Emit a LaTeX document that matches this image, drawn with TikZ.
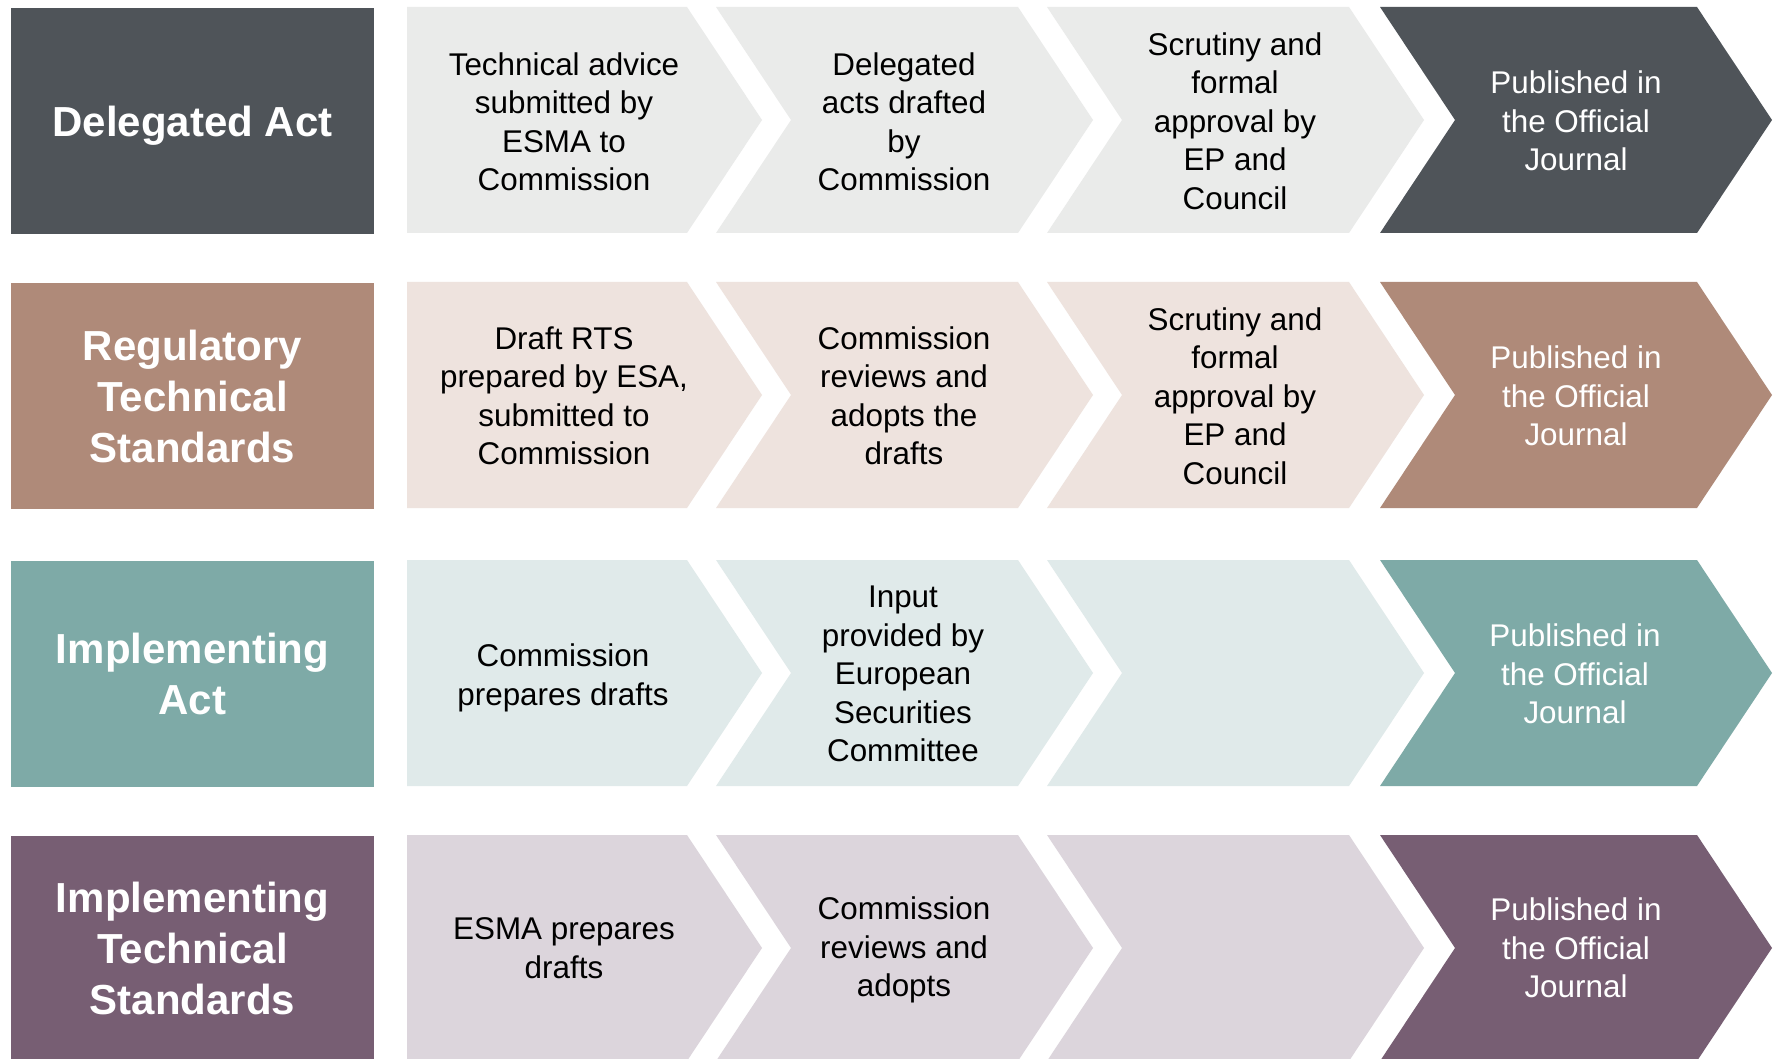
\documentclass[tikz,border=0pt]{standalone}
\usepackage{fontspec}
\setmainfont{Liberation Sans}
\definecolor{darkA}{RGB}{79,84,89}
\definecolor{lightA}{RGB}{234,235,234}
\definecolor{darkB}{RGB}{175,138,121}
\definecolor{lightB}{RGB}{238,227,222}
\definecolor{darkC}{RGB}{126,170,167}
\definecolor{lightC}{RGB}{224,234,234}
\definecolor{darkD}{RGB}{119,94,115}
\definecolor{lightD}{RGB}{220,213,220}
\newcommand\firstchev[2]{\fill[#2] (407,#1) -- ++(280,0) -- ++(75,113) -- ++(-75,113) -- ++(-280,0) -- cycle;}
\newcommand\midchev[4]{\fill[#4] (#1,#2) -- ++(#3,0) -- ++(75,113) -- ++(-75,113) -- ++(-#3,0) -- ++(75,-113) -- cycle;}
\begin{document}
\begin{tikzpicture}[x=0.5pt,y=-0.5pt,
  lbl/.style={text=white, font=\fontsize{21}{25.5}\selectfont\bfseries, align=center, inner sep=0pt},
  stp/.style={text=black, font=\fontsize{15.7}{19.25}\selectfont, align=center, inner sep=0pt},
  pub/.style={stp, text=white}]
\useasboundingbox (0,0) rectangle (1777,1059);
\fill[white] (0,0) rectangle (1777,1059);
% Row 1
\fill[darkA] (11,8) rectangle (374,234);
\firstchev{7}{lightA}
\midchev{716}{7}{302}{lightA}
\midchev{1047}{7}{302}{lightA}
\midchev{1380}{7}{317}{darkA}
\node[lbl] (l1) at (192.5,126) {Delegated Act};
\node[stp] (a1) at (564,122) {Technical advice\\submitted by\\ESMA to\\Commission};
\node[stp] (a2) at (904,122) {Delegated\\acts drafted\\by\\Commission};
\node[stp] (a3) at (1235,121) {Scrutiny and\\formal\\approval by\\EP and\\Council};
\node[pub] (a4) at (1576,121) {Published in\\the Official\\Journal};
% Row 2
\fill[darkB] (11,283) rectangle (374,509);
\firstchev{282}{lightB}
\midchev{716}{282}{302}{lightB}
\midchev{1047}{282}{302}{lightB}
\midchev{1380}{282}{317}{darkB}
\node[lbl] (l2) at (192.5,396) {Regulatory\\Technical\\Standards};
\node[stp] (b1) at (564,396) {Draft RTS\\prepared by ESA,\\submitted to\\Commission};
\node[stp] (b2) at (904,396) {Commission\\reviews and\\adopts the\\drafts};
\node[stp] (b3) at (1235,396) {Scrutiny and\\formal\\approval by\\EP and\\Council};
\node[pub] (b4) at (1576,396) {Published in\\the Official\\Journal};
% Row 3
\fill[darkC] (11,561) rectangle (374,787);
\firstchev{560}{lightC}
\midchev{716}{560}{302}{lightC}
\midchev{1047}{560}{302}{lightC}
\midchev{1380}{560}{317}{darkC}
\node[lbl] (l3) at (192.5,674) {Implementing\\Act};
\node[stp] (c1) at (563,678) {Commission\\prepares drafts};
\node[stp] (c2) at (903,674) {Input\\provided by\\European\\Securities\\Committee};
\node[pub] (c4) at (1575,674) {Published in\\the Official\\Journal};
% Row 4
\fill[darkD] (11,836) rectangle (374,1062);
\firstchev{835}{lightD}
\midchev{716}{835}{302}{lightD}
\midchev{1047}{835}{302}{lightD}
\midchev{1380}{835}{317}{darkD}
\node[lbl] (l4) at (192.5,948) {Implementing\\Technical\\Standards};
\node[stp] (d1) at (564,948) {ESMA prepares\\drafts};
\node[stp] (d2) at (904,950) {Commission\\reviews and\\adopts};
\node[pub] (d4) at (1576,948) {Published in\\the Official\\Journal};
\end{tikzpicture}
\end{document}
